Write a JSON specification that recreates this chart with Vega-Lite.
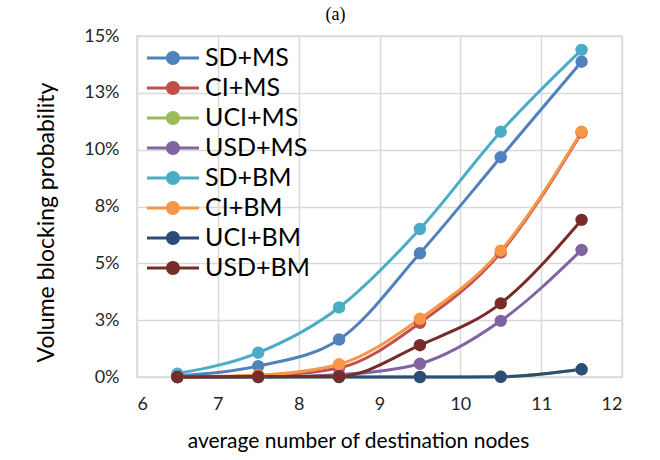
{
  "$schema": "https://vega.github.io/schema/vega-lite/v6.json",
  "autosize": {"type": "none"},
  "width": 485,
  "height": 341,
  "padding": {"left": 137, "top": 36, "right": 38, "bottom": 83},
  "background": "white",
  "title": {"text": "(a)", "font": "Liberation Serif", "fontSize": 18, "fontWeight": "normal", "color": "#000", "anchor": "middle", "dx": -44, "offset": -15, "baseline": "bottom"},
  "config": {
    "view": {"stroke": "#D9D9D9", "strokeWidth": 1.5},
    "axis": {"labelFont": "Lato", "titleFont": "Lato", "labelColor": "#262626", "titleColor": "#000", "titleFontWeight": "normal", "gridColor": "#D9D9D9", "gridWidth": 1.5, "domain": false, "ticks": false},
    "legend": {"labelFont": "Lato", "labelFontSize": 25, "labelColor": "#000"}
  },
  "data": {"values": [
    {"series": "SD+MS", "x": 6.5, "y": 0.0005}, {"series": "SD+MS", "x": 7.5, "y": 0.0048}, {"series": "SD+MS", "x": 8.5, "y": 0.0165}, {"series": "SD+MS", "x": 9.5, "y": 0.0544}, {"series": "SD+MS", "x": 10.5, "y": 0.0967}, {"series": "SD+MS", "x": 11.5, "y": 0.1387},
    {"series": "CI+MS", "x": 6.5, "y": 0}, {"series": "CI+MS", "x": 7.5, "y": 0.0005}, {"series": "CI+MS", "x": 8.5, "y": 0.004}, {"series": "CI+MS", "x": 9.5, "y": 0.0238}, {"series": "CI+MS", "x": 10.5, "y": 0.0547}, {"series": "CI+MS", "x": 11.5, "y": 0.1075},
    {"series": "UCI+MS", "x": 6.5, "y": 0}, {"series": "UCI+MS", "x": 7.5, "y": 0}, {"series": "UCI+MS", "x": 8.5, "y": 0}, {"series": "UCI+MS", "x": 9.5, "y": 0}, {"series": "UCI+MS", "x": 10.5, "y": 0.0001}, {"series": "UCI+MS", "x": 11.5, "y": 0.0034},
    {"series": "USD+MS", "x": 6.5, "y": 0}, {"series": "USD+MS", "x": 7.5, "y": 0}, {"series": "USD+MS", "x": 8.5, "y": 0.001}, {"series": "USD+MS", "x": 9.5, "y": 0.0058}, {"series": "USD+MS", "x": 10.5, "y": 0.0247}, {"series": "USD+MS", "x": 11.5, "y": 0.0559},
    {"series": "SD+BM", "x": 6.5, "y": 0.0015}, {"series": "SD+BM", "x": 7.5, "y": 0.0107}, {"series": "SD+BM", "x": 8.5, "y": 0.0306}, {"series": "SD+BM", "x": 9.5, "y": 0.0651}, {"series": "SD+BM", "x": 10.5, "y": 0.1079}, {"series": "SD+BM", "x": 11.5, "y": 0.1439},
    {"series": "CI+BM", "x": 6.5, "y": 0}, {"series": "CI+BM", "x": 7.5, "y": 0.0008}, {"series": "CI+BM", "x": 8.5, "y": 0.0056}, {"series": "CI+BM", "x": 9.5, "y": 0.0256}, {"series": "CI+BM", "x": 10.5, "y": 0.0556}, {"series": "CI+BM", "x": 11.5, "y": 0.1079},
    {"series": "UCI+BM", "x": 6.5, "y": 0}, {"series": "UCI+BM", "x": 7.5, "y": 0}, {"series": "UCI+BM", "x": 8.5, "y": 0}, {"series": "UCI+BM", "x": 9.5, "y": 0}, {"series": "UCI+BM", "x": 10.5, "y": 0.0001}, {"series": "UCI+BM", "x": 11.5, "y": 0.0034},
    {"series": "USD+BM", "x": 6.5, "y": 0}, {"series": "USD+BM", "x": 7.5, "y": 0.0002}, {"series": "USD+BM", "x": 8.5, "y": 0.0003}, {"series": "USD+BM", "x": 9.5, "y": 0.014}, {"series": "USD+BM", "x": 10.5, "y": 0.0324}, {"series": "USD+BM", "x": 11.5, "y": 0.0691}
  ]},
  "encoding": {
    "x": {"field": "x", "type": "quantitative", "scale": {"domain": [6, 12], "nice": false, "zero": false},
      "axis": {"values": [6, 7, 8, 9, 10, 11, 12], "title": "average number of destination nodes", "labelFontSize": 18, "titleFontSize": 21, "labelPadding": 18, "titlePadding": 17, "titleX": 221}},
    "y": {"field": "y", "type": "quantitative", "scale": {"domain": [0, 0.15], "nice": false},
      "axis": {"values": [0, 0.025, 0.05, 0.075, 0.1, 0.125, 0.15], "format": ".0%", "title": "Volume blocking probability", "labelFontSize": 18, "titleFontSize": 23, "labelPadding": 18, "titlePadding": 25, "titleY": 186}},
    "color": {"field": "series", "type": "nominal",
      "scale": {"domain": ["SD+MS", "CI+MS", "UCI+MS", "USD+MS", "SD+BM", "CI+BM", "UCI+BM", "USD+BM"],
        "range": ["#4F81BD", "#C0504D", "#9BBB59", "#8064A2", "#4BACC6", "#F79646", "#2C4D75", "#772C2A"]},
      "legend": {"title": null, "orient": "none", "legendX": 22, "legendY": 8,
        "symbolType": "M-1.857,-0.114H1.857V0.114H-1.857Z M-0.5,0A0.5,0.5,0,1,1,0.5,0A0.5,0.5,0,1,1,-0.5,0Z",
        "symbolSize": 784, "symbolStrokeWidth": 0, "labelFont": "Lato", "labelFontSize": 25, "labelColor": "#000",
        "labelOffset": 18, "rowPadding": 3, "labelLimit": 300,
        "encode": {"symbols": {"update": {"fill": {"scale": "color", "field": "value"}, "fillOpacity": {"value": 1}, "strokeWidth": {"value": 0}}}}}}
  },
  "layer": [
    {"mark": {"type": "line", "interpolate": "monotone", "strokeWidth": 3}},
    {"mark": {"type": "point", "filled": true, "size": 154, "opacity": 1}}
  ]
}
